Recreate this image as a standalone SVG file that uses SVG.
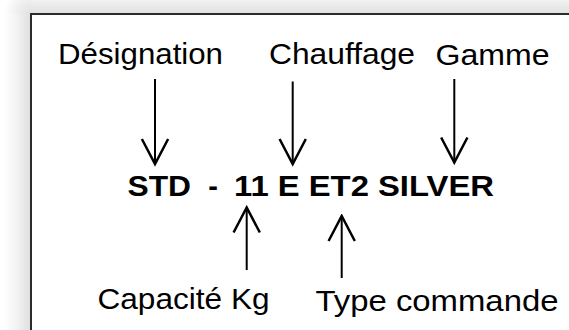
<svg xmlns="http://www.w3.org/2000/svg" width="569" height="330" viewBox="0 0 569 330">
<defs>
<linearGradient id="shL" gradientUnits="userSpaceOnUse" x1="4" y1="0" x2="31" y2="0">
<stop offset="0" stop-color="#ffffff"/>
<stop offset="0.5" stop-color="#f2f2f2"/>
<stop offset="1" stop-color="#dedede"/>
</linearGradient>
<linearGradient id="shT" gradientUnits="userSpaceOnUse" x1="0" y1="0" x2="0" y2="14">
<stop offset="0" stop-color="#f2f2f2"/>
<stop offset="1" stop-color="#e0e0e0"/>
</linearGradient>
<radialGradient id="shC" gradientUnits="userSpaceOnUse" cx="31" cy="14" r="27">
<stop offset="0" stop-color="#e0e0e0"/>
<stop offset="0.55" stop-color="#f0f0f0"/>
<stop offset="1" stop-color="#ffffff"/>
</radialGradient>
<marker id="head" markerUnits="userSpaceOnUse" markerWidth="30" markerHeight="30" viewBox="-22 -12 24 24" refX="0" refY="0" orient="auto">
<path d="M-20,-10.5 L0,0 L-20,10.5" fill="none" stroke="#000" stroke-width="2"/>
</marker>
<style>
.lbl{font-family:"Liberation Sans",Arial,sans-serif;font-size:30px;fill:#000}
.code{font-family:"Liberation Sans",Arial,sans-serif;font-size:29px;font-weight:bold;fill:#000}
.arr{stroke:#000;stroke-width:2;fill:none;marker-end:url(#head)}
</style>
</defs>
<rect width="569" height="330" fill="#fff"/>
<rect x="0" y="0" width="31" height="14" fill="url(#shC)"/>
<rect x="31" y="0" width="538" height="14" fill="url(#shT)"/>
<rect x="0" y="14" width="31" height="316" fill="url(#shL)"/>
<rect x="31" y="14" width="600" height="400" fill="#fff" stroke="#2b2b2b" stroke-width="2"/>
<g id="designation"><text class="lbl" x="58" y="64" textLength="165" lengthAdjust="spacingAndGlyphs">Désignation</text></g>
<g id="chauffage"><text class="lbl" x="269" y="64" textLength="146" lengthAdjust="spacingAndGlyphs">Chauffage</text></g>
<g id="gamme"><text class="lbl" x="435.5" y="64.5" textLength="114" lengthAdjust="spacingAndGlyphs">Gamme</text></g>
<g id="code">
<text class="code" x="127.5" y="196" textLength="63.5" lengthAdjust="spacingAndGlyphs">STD</text>
<text class="code" x="213" y="196" text-anchor="middle">-</text>
<text class="code" x="234" y="196" textLength="260" lengthAdjust="spacingAndGlyphs">11 E ET2 SILVER</text>
</g>
<g id="capacite"><text class="lbl" x="97.5" y="308.5" textLength="172" lengthAdjust="spacingAndGlyphs">Capacité Kg</text></g>
<g id="type"><text class="lbl" x="315.5" y="310.5" textLength="243" lengthAdjust="spacingAndGlyphs">Type commande</text></g>
<g id="connectors">
<line class="arr" x1="155" y1="79" x2="155" y2="164"/>
<line class="arr" x1="292.7" y1="81.5" x2="292.7" y2="164"/>
<line class="arr" x1="454.3" y1="79" x2="454.3" y2="162.5"/>
<line class="arr" x1="246.7" y1="270" x2="246.7" y2="207.5"/>
<line class="arr" x1="341.7" y1="278" x2="341.7" y2="216"/>
</g>
</svg>
